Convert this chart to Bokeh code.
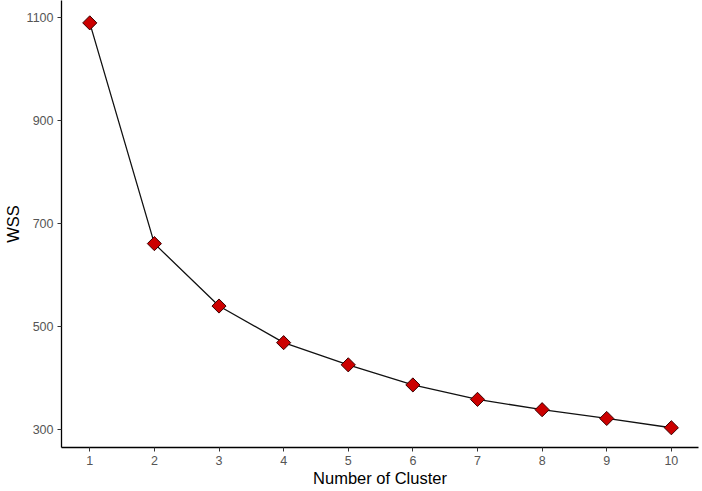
import math
from bokeh.plotting import figure
from bokeh.models import FixedTicker, Range1d
from bokeh.embed import file_html
from bokeh.resources import INLINE

clusters = [1, 2, 3, 4, 5, 6, 7, 8, 9, 10]
wss = [1089, 661, 540, 469, 426, 387, 359, 339, 322, 304]
x_ticks = [1, 2, 3, 4, 5, 6, 7, 8, 9, 10]
y_ticks = [300, 500, 700, 900, 1100]

p = figure(width=702, height=491, output_backend="svg", toolbar_location=None,
           x_range=Range1d(0.5626, 10.42), y_range=Range1d(265.7, 1132.4),
           min_border_left=60, min_border_right=4, min_border_top=0, min_border_bottom=44)
p.outline_line_color = None
p.grid.visible = False
p.background_fill_color = "white"

p.line(clusters, wss, line_color="#111111", line_width=1.3)
p.scatter(clusters, wss, marker="square", size=10, angle=math.pi / 4,
          fill_color="#cc0000", line_color="#3a0000", line_width=1)

for ax in (p.xaxis, p.yaxis):
    ax.axis_line_color = "black"
    ax.axis_line_width = 1.3
    ax.major_tick_line_color = "#333333"
    ax.major_tick_in = 0
    ax.major_tick_out = 4
    ax.minor_tick_line_color = None
    ax.major_label_text_font = "Liberation Sans"
    ax.major_label_text_font_size = "12.5px"
    ax.major_label_text_color = "#555555"
    ax.axis_label_text_font = "Liberation Sans"
    ax.axis_label_text_font_size = "16.5px"
    ax.axis_label_text_font_style = "normal"
    ax.axis_label_text_color = "black"

p.xaxis.ticker = FixedTicker(ticks=x_ticks)
p.yaxis.ticker = FixedTicker(ticks=y_ticks)
p.xaxis.axis_label = "Number of Cluster"
p.yaxis.axis_label = "WSS"
p.xaxis.major_label_standoff = 4
p.yaxis.major_label_standoff = 4
p.xaxis.axis_label_standoff = 1
p.yaxis.axis_label_standoff = 2

open("out.html", "w").write(file_html(p, INLINE))
